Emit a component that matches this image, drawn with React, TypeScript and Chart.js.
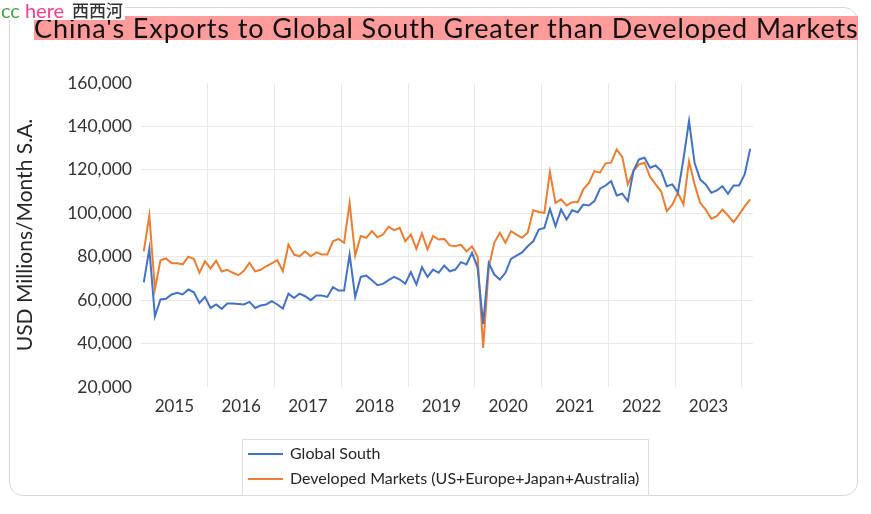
import React, { useEffect, useRef } from 'react';
import { Chart, registerables } from 'chart.js';

Chart.register(...registerables);

// Monthly data, Jan 2015 .. Feb 2024, USD millions per month (S.A.)
const yearLabels = ['2015', '2016', '2017', '2018', '2019', '2020', '2021', '2022', '2023'];
const firstYear = 2015;

const globalSouth = [
  68200, 83600, 52600, 60300, 60600, 62600, 63400, 62600, 64900, 63600, 58700, 61500,
  56400, 58000, 56000, 58400, 58400, 58200, 58000, 59200, 56400, 57500, 58000, 59500,
  58000, 56100, 63000, 61000, 63000, 61800, 60000, 62100, 62100, 61500, 66000, 64400,
  64400, 81000, 61500, 70700, 71300, 69200, 66900, 67500, 69200, 70700, 69500, 67600,
  72900, 67200, 75200, 70700, 74100, 72600, 75900, 73300, 74100, 77500, 76400, 81800,
  75000, 49000, 77000, 71800, 69500, 72600, 79000, 80500, 82000, 84800, 87100, 92500,
  93300, 102000, 94000, 101700, 97100, 101400, 100500, 104000, 103600, 105600, 111300, 112800,
  114800, 108200, 109000, 105600, 119400, 124800, 125600, 121000, 122000, 119400, 112500, 113300,
  109500, 125000, 142500, 123300, 115600, 113300, 109400, 110500, 112500, 109000, 112800, 112800,
  117900, 129700,
];

const developedMarkets = [
  82500, 99000, 65000, 78400, 79200, 77000, 77000, 76500, 80000, 79000, 72600, 78000,
  74600, 78200, 73200, 74000, 72600, 71500, 73500, 77200, 73300, 74000, 75600, 76900,
  78400, 73300, 85600, 81000, 80200, 82500, 80200, 82000, 81000, 81000, 87100, 88200,
  86400, 104800, 80500, 89500, 88700, 91800, 89000, 90200, 93800, 92200, 93300, 87100,
  90200, 83600, 90700, 83300, 89500, 87900, 88200, 85200, 84800, 85600, 82500, 84800,
  80000, 38000, 75000, 86400, 91000, 86400, 91800, 90200, 88700, 91000, 101400, 100600,
  100200, 119000, 104800, 106400, 103600, 105100, 105100, 111000, 114000, 119400, 118700, 123000,
  123300, 129400, 126000, 113300, 119400, 122500, 123300, 116800, 113300, 110000, 101000, 104000,
  109400, 104000, 124000, 113300, 104800, 101700, 97500, 98700, 101700, 99000, 95900, 99400,
  103200, 106400,
];

const yMin = 20000;
const yMax = 160000;
const yStep = 20000;

const seriesNames = ['Global South', 'Developed Markets (US+Europe+Japan+Australia)'];
const seriesColors = ['#4472C4', '#ED7D31'];

const FONT = 'Lato, "Open Sans", sans-serif';

const boxLegend = {
  id: 'boxLegend',
  afterDraw(chart: any, _args: any, opts: any) {
    const { ctx } = chart;
    ctx.save();
    ctx.strokeStyle = opts.borderColor;
    ctx.lineWidth = 1;
    ctx.strokeRect(opts.x + 0.5, opts.y + 0.5, opts.w, opts.h);
    chart.data.datasets.forEach((ds: any, i: number) => {
      const y = opts.y + opts.firstRow + i * opts.rowGap;
      ctx.strokeStyle = ds.borderColor;
      ctx.lineWidth = 2;
      ctx.beginPath();
      ctx.moveTo(opts.x + 6, y);
      ctx.lineTo(opts.x + 41, y);
      ctx.stroke();
      ctx.fillStyle = '#262626';
      ctx.font = `16px ${FONT}`;
      ctx.textBaseline = 'middle';
      ctx.textAlign = 'left';
      ctx.fillText(ds.label, opts.x + 48, y);
    });
    ctx.restore();
  },
};

export default function App() {
  const canvasRef = useRef<HTMLCanvasElement | null>(null);

  useEffect(() => {
    document.body.style.margin = '0';
    const canvas = canvasRef.current;
    if (!canvas) return;

    const n = globalSouth.length;
    const xTicks: number[] = [];
    for (let k = 0; k < yearLabels.length; k++) {
      xTicks.push(k * 12 + 5.5);
      xTicks.push(k * 12 + 11.5);
    }

    const chart = new Chart(canvas, {
      type: 'line',
      data: {
        datasets: [
          {
            label: seriesNames[0],
            data: globalSouth.map((v, i) => ({ x: i, y: v })),
            borderColor: seriesColors[0],
            backgroundColor: seriesColors[0],
            borderWidth: 2,
            pointRadius: 0,
            tension: 0,
          },
          {
            label: seriesNames[1],
            data: developedMarkets.map((v, i) => ({ x: i, y: v })),
            borderColor: seriesColors[1],
            backgroundColor: seriesColors[1],
            borderWidth: 2,
            pointRadius: 0,
            tension: 0,
          },
        ],
      },
      options: {
        animation: false,
        responsive: false,
        maintainAspectRatio: false,
        layout: { padding: { left: 0, top: 83, right: 118, bottom: 97 } },
        plugins: {
          legend: { display: false },
          tooltip: { enabled: false },
          boxLegend: {
            x: 242,
            y: 439,
            w: 406,
            h: 56,
            firstRow: 15,
            rowGap: 25,
            borderColor: '#dedede',
          },
        } as any,
        scales: {
          x: {
            type: 'linear',
            min: -0.5,
            max: n - 0.5,
            afterBuildTicks: (scale: any) => {
              scale.ticks = xTicks.map((v) => ({ value: v }));
            },
            afterFit: (scale: any) => {
              scale.height = 30;
            },
            border: { display: false },
            grid: {
              drawTicks: false,
              lineWidth: 1,
              color: (ctx: any) => {
                const v = ctx.tick ? ctx.tick.value : 0;
                return Math.abs((v % 12) - 11.5) < 0.01 ? '#e9e9e9' : 'rgba(0,0,0,0)';
              },
            },
            ticks: {
              autoSkip: false,
              maxRotation: 0,
              minRotation: 0,
              padding: 9,
              color: '#333333',
              font: { family: FONT, size: 17 },
              callback: (value: any) => {
                const v = Number(value);
                if (Math.abs((v % 12) - 5.5) < 0.01) {
                  return String(firstYear + Math.floor(v / 12));
                }
                return '';
              },
            },
          },
          y: {
            min: yMin,
            max: yMax,
            afterFit: (scale: any) => {
              scale.width = 141;
            },
            border: { display: false },
            grid: {
              drawTicks: false,
              lineWidth: 1,
              color: (ctx: any) => {
                const v = ctx.tick ? ctx.tick.value : 0;
                return v === yMin || v === yMax ? 'rgba(0,0,0,0)' : '#e9e9e9';
              },
            },
            ticks: {
              stepSize: yStep,
              padding: 9,
              color: '#333333',
              font: { family: FONT, size: 17.5 },
              callback: (value: any) => Number(value).toLocaleString('en-US'),
            },
            title: {
              display: true,
              text: 'USD Millions/Month S.A.',
              color: '#262626',
              font: { family: FONT, size: 21 },
              padding: { top: 13, bottom: 0 },
            },
          },
        },
      },
      plugins: [boxLegend],
    });

    return () => chart.destroy();
  }, []);

  return (
    <div style={{ position: 'fixed', left: 0, top: 0, width: 871, height: 514, background: '#ffffff', overflow: 'hidden' }}>
      <div
        style={{
          position: 'absolute',
          left: 9,
          top: 7,
          width: 847,
          height: 487,
          border: '1.5px solid #d3dadd',
          borderRadius: 14,
        }}
      />
      <canvas ref={canvasRef} width={871} height={514} style={{ position: 'absolute', left: 0, top: 0, width: 871, height: 514 }} />
      <div
        style={{
          position: 'absolute',
          left: 34,
          top: 16,
          width: 824,
          height: 24,
          background: '#ff9b9b',
          color: '#111111',
          fontFamily: FONT,
          fontSize: 27,
          letterSpacing: 0.9,
          lineHeight: '24px',
          whiteSpace: 'nowrap',
          overflow: 'visible',
        }}
      >
        China's Exports to Global South Greater than Developed Markets
      </div>
      <div
        style={{
          position: 'absolute',
          left: 0,
          top: 0,
          width: 125,
          height: 20,
          background: '#ffffff',
          display: 'flex',
          alignItems: 'center',
          whiteSpace: 'nowrap',
          fontFamily: FONT,
          fontSize: 20,
          lineHeight: '20px',
        }}
      >
        <span style={{ color: '#43a047', marginLeft: 1 }}>cc</span>
        <span style={{ color: '#ff3d8b', marginLeft: 5 }}>here</span>
        <span style={{ color: '#333333', marginLeft: 8, fontSize: 17, lineHeight: '20px', fontFamily: '"Noto Sans CJK SC", sans-serif', fontWeight: 500 }}>西西河</span>
      </div>
    </div>
  );
}
